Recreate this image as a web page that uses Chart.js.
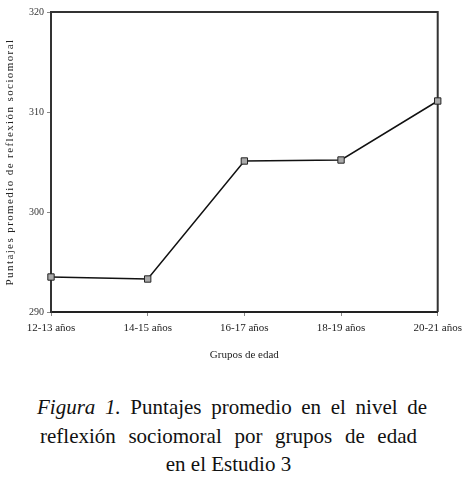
<!DOCTYPE html>
<html>
<head>
<meta charset="utf-8">
<script src="https://cdn.jsdelivr.net/npm/chart.js@4/dist/chart.umd.min.js"></script>
<style>
  body { margin: 0; background: #fff; width: 468px; height: 479px; position: relative; overflow: hidden; }
  #grafico { position: absolute; left: 0; top: 0; }
  .leyenda {
    position: absolute; top: 393px;
    font-family: "Liberation Serif", "Times New Roman", serif;
    font-size: 21px; line-height: 28.5px; color: #111;
  }
  .leyenda div { text-align: justify; text-align-last: justify; white-space: nowrap; }
  .leyenda .ultima { text-align: center; text-align-last: center; }
</style>
</head>
<body>
<canvas id="grafico" width="468" height="370"></canvas>
<div class="leyenda" style="left:0;width:468px">
  <div style="margin-left:37px;width:390px"><i>Figura 1.</i> Puntajes promedio en el nivel de</div>
  <div style="margin-left:40px;width:377px">reflexión sociomoral por grupos de edad</div>
  <div class="ultima" style="margin-left:40px;width:377px">en el Estudio 3</div>
</div>

<script>
// datos
const gruposEdad = ['12-13 años', '14-15 años', '16-17 años', '18-19 años', '20-21 años'];
const puntajes = [293.5, 293.3, 305.1, 305.2, 311.1];
const ticksY = [290, 300, 310, 320];

const fuente = '"Liberation Serif", "Times New Roman", serif';

// marco superior y derecho del área del gráfico
const marco = {
    id: 'marco',
    afterLayout(chart) {
        // espaciado de letras solo en el título del eje Y
        const s = chart.scales.y;
        if (s && !s._espaciado) {
            const orig = s.drawTitle;
            s.drawTitle = function () {
                const c = this.ctx;
                c.save();
                c.letterSpacing = '1.4px';
                orig.call(this);
                c.restore();
            };
            s._espaciado = true;
        }
    },
    beforeDatasetsDraw(chart) {
        const { ctx, chartArea: a } = chart;
        ctx.save();
        ctx.strokeStyle = '#333';
        ctx.lineWidth = 2;
        ctx.beginPath();
        ctx.moveTo(a.left, a.top);
        ctx.lineTo(a.right, a.top);
        ctx.lineTo(a.right, a.bottom);
        ctx.stroke();
        ctx.restore();
    }
};

new Chart(document.getElementById('grafico'), {
    type: 'line',
    data: {
        labels: gruposEdad,
        datasets: [{
            data: puntajes,
            borderColor: '#111',
            borderWidth: 1.5,
            pointStyle: 'rect',
            pointRadius: 4.5,
            pointBackgroundColor: '#aaa',
            pointBorderColor: '#222',
            pointBorderWidth: 1,
            tension: 0,
            clip: false
        }]
    },
    options: {
        responsive: false,
        animation: false,
        layout: { padding: { left: 0, right: 30, top: 12, bottom: 0 } },
        plugins: {
            legend: { display: false },
            tooltip: { enabled: false }
        },
        scales: {
            x: {
                offset: false,
                grid: { drawOnChartArea: false, drawTicks: true, tickLength: 4, color: '#888' },
                border: { color: '#222', width: 2 },
                ticks: {
                    color: '#222', padding: 6, maxRotation: 0, autoSkip: false,
                    font: { family: fuente, size: 11 }
                },
                title: {
                    display: true, text: 'Grupos de edad', color: '#222',
                    font: { family: fuente, size: 11 },
                    padding: { top: 4, bottom: 8 }
                },
                afterFit(scale) { scale.height = 58; }
            },
            y: {
                min: 290,
                max: 320,
                afterBuildTicks(scale) { scale.ticks = ticksY.map(v => ({ value: v })); },
                grid: { drawOnChartArea: false, drawTicks: true, tickLength: 4, color: '#888' },
                border: { color: '#333', width: 2 },
                ticks: {
                    color: '#333', padding: 3,
                    font: { family: fuente, size: 10 }
                },
                title: {
                    display: true, text: 'Puntajes promedio de reflexión sociomoral', color: '#222',
                    font: { family: fuente, size: 11 },
                    padding: { top: 4, bottom: 0 }
                },
                afterFit(scale) { scale.width = 51; }
            }
        }
    },
    plugins: [marco]
});
</script>
</body>
</html>
